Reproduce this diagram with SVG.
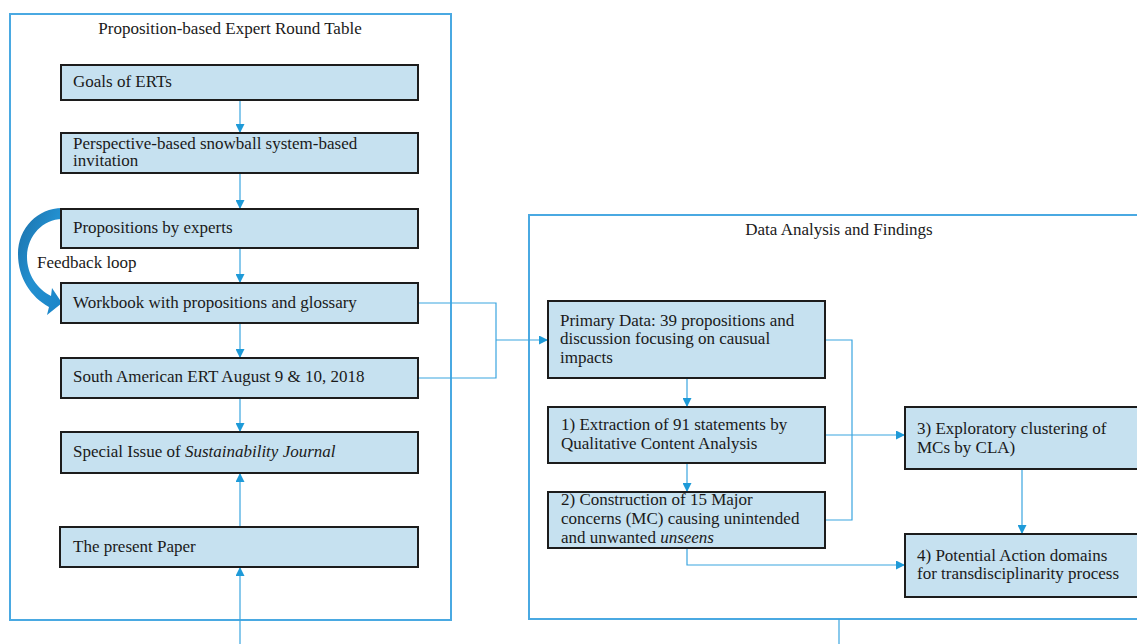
<svg xmlns="http://www.w3.org/2000/svg" width="1137" height="644" viewBox="0 0 1137 644">
<style>
  .frame { fill: none; stroke: #4aa9e2; stroke-width: 2; }
  .box { fill: #c6e1f0; stroke: #1c1c1c; stroke-width: 2; }
  .t { font-family: "Liberation Serif", "Times New Roman", serif; font-size: 17px; fill: #1a1a1a; }
  .c { fill: none; stroke: #3aa5e0; stroke-width: 1.2; }
  .i { font-style: italic; }
</style>
<defs>
  <marker id="ah" viewBox="0 0 10 10" refX="10" refY="5" markerWidth="9" markerHeight="9" markerUnits="userSpaceOnUse" orient="auto">
    <path d="M0,0 L10,5 L0,10 Z" fill="#1e9ad8"/>
  </marker>
  <linearGradient id="fb" x1="0" y1="0" x2="1" y2="1">
    <stop offset="0" stop-color="#1b6fa8"/>
    <stop offset="0.5" stop-color="#2390d0"/>
    <stop offset="1" stop-color="#1a84c8"/>
  </linearGradient>
</defs>

<g id="frame-left">
  <rect class="frame" x="10" y="14" width="441" height="606"/>
  <text class="t" x="230" y="34" text-anchor="middle">Proposition-based Expert Round Table</text>
</g>
<g id="frame-right">
  <rect class="frame" x="529" y="215" width="630" height="404"/>
  <text class="t" x="839" y="235" text-anchor="middle">Data Analysis and Findings</text>
</g>

<g id="connectors">
  <line class="c" x1="240" y1="100" x2="240" y2="133" marker-end="url(#ah)"/>
  <line class="c" x1="240" y1="173" x2="240" y2="209" marker-end="url(#ah)"/>
  <line class="c" x1="240" y1="248" x2="240" y2="283" marker-end="url(#ah)"/>
  <line class="c" x1="240" y1="323" x2="240" y2="358" marker-end="url(#ah)"/>
  <line class="c" x1="240" y1="398" x2="240" y2="432" marker-end="url(#ah)"/>
  <line class="c" x1="240" y1="527" x2="240" y2="473" marker-end="url(#ah)"/>
  <line class="c" x1="240" y1="644" x2="240" y2="567" marker-end="url(#ah)"/>
  <polyline class="c" points="418,303 496,303 496,378 418,378"/>
  <line class="c" x1="496" y1="340" x2="548" y2="340" marker-end="url(#ah)"/>
  <line class="c" x1="687" y1="378" x2="687" y2="407" marker-end="url(#ah)"/>
  <line class="c" x1="687" y1="463" x2="687" y2="492" marker-end="url(#ah)"/>
  <polyline class="c" points="825,340 852,340 852,520 825,520"/>
  <line class="c" x1="825" y1="435" x2="905" y2="435" marker-end="url(#ah)"/>
  <polyline class="c" points="687,548 687,565 905,565" marker-end="url(#ah)"/>
  <line class="c" x1="1022" y1="469" x2="1022" y2="534" marker-end="url(#ah)"/>
  <line class="c" x1="839" y1="619" x2="839" y2="644"/>
  <path id="feedback-arrow" d="M62,208 C38,208 18,228 18,254 C18,278 31,297 49,307 L47,315 L62,303 L52,288 L51,296 C37,289 27,274 27,257 C27,236 43,219 62,219 Z" fill="url(#fb)"/>
  <text class="t" x="37" y="268">Feedback loop</text>
</g>

<g id="n-goals">
  <rect class="box" x="61" y="65" width="357" height="35"/>
  <text class="t" x="73" y="87">Goals of ERTs</text>
</g>
<g id="n-invitation">
  <rect class="box" x="61" y="133" width="357" height="40"/>
  <text class="t" x="73" y="149">Perspective-based snowball system-based</text>
  <text class="t" x="73" y="166">invitation</text>
</g>
<g id="n-propositions">
  <rect class="box" x="61" y="209" width="357" height="39"/>
  <text class="t" x="73" y="233">Propositions by experts</text>
</g>
<g id="n-workbook">
  <rect class="box" x="61" y="283" width="357" height="40"/>
  <text class="t" x="73" y="308">Workbook with propositions and glossary</text>
</g>
<g id="n-ert">
  <rect class="box" x="61" y="358" width="357" height="40"/>
  <text class="t" x="73" y="382">South American ERT August 9 &amp; 10, 2018</text>
</g>
<g id="n-special">
  <rect class="box" x="61" y="432" width="357" height="41"/>
  <text class="t" x="73" y="457">Special Issue of <tspan class="i">Sustainability Journal</tspan></text>
</g>
<g id="n-paper">
  <rect class="box" x="60" y="527" width="358" height="40"/>
  <text class="t" x="73" y="552">The present Paper</text>
</g>

<g id="n-primary">
  <rect class="box" x="548" y="301" width="277" height="77"/>
  <text class="t" x="560" y="326">Primary Data: 39 propositions and</text>
  <text class="t" x="560" y="344">discussion focusing on causual</text>
  <text class="t" x="560" y="363">impacts</text>
</g>
<g id="n-extraction">
  <rect class="box" x="548" y="407" width="277" height="56"/>
  <text class="t" x="561" y="430">1) Extraction of 91 statements by</text>
  <text class="t" x="561" y="449">Qualitative Content Analysis</text>
</g>
<g id="n-construction">
  <rect class="box" x="548" y="492" width="277" height="56"/>
  <text class="t" x="561" y="505">2) Construction of 15 Major</text>
  <text class="t" x="561" y="524">concerns (MC) causing unintended</text>
  <text class="t" x="561" y="543">and unwanted <tspan class="i">unseens</tspan></text>
</g>
<g id="n-clustering">
  <rect class="box" x="905" y="407" width="245" height="62"/>
  <text class="t" x="917" y="434">3) Exploratory clustering of</text>
  <text class="t" x="917" y="453">MCs by CLA)</text>
</g>
<g id="n-action">
  <rect class="box" x="905" y="534" width="245" height="63"/>
  <text class="t" x="917" y="561">4) Potential Action domains</text>
  <text class="t" x="917" y="579">for transdisciplinarity process</text>
</g>
</svg>
